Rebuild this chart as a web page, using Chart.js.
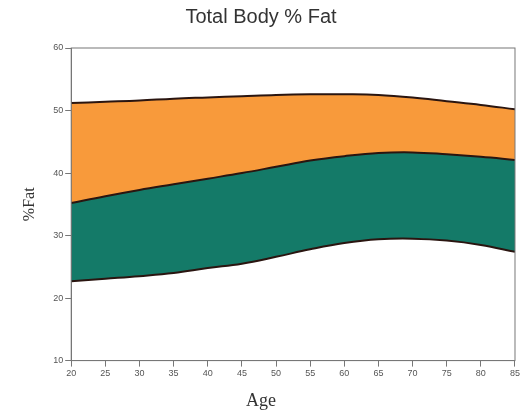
<!DOCTYPE html>
<html>
<head>
<meta charset="utf-8">
<script src="https://cdn.jsdelivr.net/npm/chart.js@4.4.0/dist/chart.umd.min.js"></script>
<style>
  html, body { margin: 0; padding: 0; background: #fff; }
  #wrap { width: 522px; height: 416px; }
</style>
</head>
<body>
<div id="wrap"><canvas id="fatChart"></canvas></div>
<script>
const ages = [20, 25, 30, 35, 40, 45, 50, 55, 60, 65, 70, 75, 80, 85];
const lowerLine = [22.7, 23.1, 23.5, 24.0, 24.8, 25.5, 26.6, 27.8, 28.8, 29.4, 29.5, 29.2, 28.5, 27.4];
const middleLine = [35.2, 36.3, 37.3, 38.2, 39.1, 40.0, 41.0, 42.0, 42.7, 43.2, 43.3, 43.0, 42.6, 42.1];
const upperLine = [51.2, 51.4, 51.6, 51.9, 52.1, 52.3, 52.5, 52.6, 52.6, 52.5, 52.1, 51.5, 50.9, 50.2];
const yTicks = [10, 20, 30, 40, 50, 60];

const toPoints = (arr) => ages.map((a, i) => ({ x: a, y: arr[i] }));

// box around the plot area
const frame = {
    id: "frame",
    afterDatasetsDraw(chart) {
        const { ctx, chartArea: a } = chart;
        ctx.save();
        ctx.strokeStyle = "#777";
        ctx.lineWidth = 1;
        ctx.strokeRect(a.left, a.top, a.right - a.left, a.bottom - a.top);
        ctx.restore();
    }
};

const lineStyle = {
    borderColor: "#2a1510",
    borderWidth: 2,
    pointRadius: 0,
    tension: 0.4
};

new Chart(document.getElementById("fatChart").getContext("2d"), {
    type: "line",
    data: {
        datasets: [
            { label: "lower", data: toPoints(lowerLine), fill: false, ...lineStyle },
            { label: "middle", data: toPoints(middleLine), fill: "-1", backgroundColor: "#147a68", ...lineStyle },
            { label: "upper", data: toPoints(upperLine), fill: "-1", backgroundColor: "#f89a3b", ...lineStyle }
        ]
    },
    options: {
        responsive: true,
        maintainAspectRatio: false,
        animation: false,
        layout: { padding: { left: 6, right: 6, top: 0, bottom: 0 } },
        plugins: {
            legend: { display: false },
            tooltip: { enabled: false },
            title: {
                display: true,
                text: "Total Body % Fat",
                color: "#333",
                font: { family: "Liberation Sans, Arial, sans-serif", size: 20, weight: "normal" },
                padding: { top: 5, bottom: 19 }
            },
            // x axis name, centred on the whole picture like the original
            subtitle: {
                display: true,
                position: "bottom",
                text: "Age",
                color: "#333",
                font: { family: "Liberation Serif, Times New Roman, serif", size: 18 },
                padding: { top: 9, bottom: 4 }
            }
        },
        scales: {
            x: {
                type: "linear",
                min: 20,
                max: 85,
                ticks: { stepSize: 5, color: "#555", font: { size: 9 }, padding: 2 },
                grid: { drawOnChartArea: false, tickLength: 6, color: "#777" },
                border: { color: "#777" }
            },
            y: {
                min: 10,
                max: 60,
                afterBuildTicks: (axis) => { axis.ticks = yTicks.map(v => ({ value: v })); },
                ticks: { color: "#555", font: { size: 9 }, padding: 2 },
                grid: { drawOnChartArea: false, tickLength: 6, color: "#777" },
                border: { color: "#777" },
                title: {
                    display: true,
                    text: "%Fat",
                    color: "#333",
                    font: { family: "Liberation Serif, Times New Roman, serif", size: 16 },
                    padding: { top: 14, bottom: 12 }
                }
            }
        }
    },
    plugins: [frame]
});
</script>
</body>
</html>
